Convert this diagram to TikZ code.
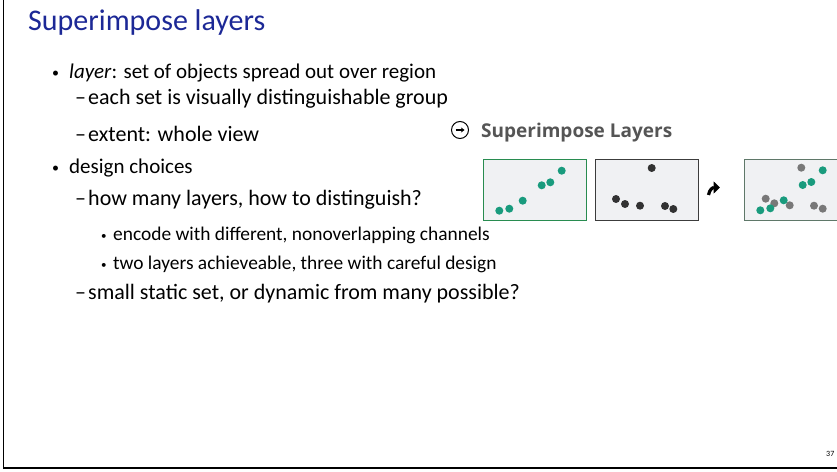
\documentclass[tikz,border=0pt]{standalone}
\usepackage{fontspec}
\setmainfont{Carlito}
\newfontfamily\headfont{Open Sans}
\usetikzlibrary{arrows.meta}

\definecolor{titleblue}{RGB}{28,40,150}
\definecolor{headgray}{RGB}{85,85,85}
\definecolor{boxfill}{RGB}{240,241,243}
\definecolor{boxgreen}{RGB}{40,140,80}
\definecolor{boxdark}{RGB}{60,60,60}
\definecolor{boxmix}{RGB}{95,120,105}
\definecolor{dotteal}{RGB}{25,155,125}
\definecolor{dotdark}{RGB}{50,50,50}
\definecolor{dotgray}{RGB}{120,120,120}

\begin{document}
\begin{tikzpicture}[x=1pt, y=-1pt, >=stealth,
    txt/.style={anchor=base west, inner sep=0pt},
    lvlone/.style={txt, font=\fontsize{21}{24}\selectfont},
    lvltwo/.style={txt, font=\fontsize{22}{25}\selectfont},
    lvlthree/.style={txt, font=\fontsize{19.4}{22}\selectfont},
    bulbig/.style={txt, font=\fontsize{14}{16}\selectfont},
    bulsmall/.style={txt, font=\fontsize{11}{13}\selectfont},
    panel/.style={draw, fill=boxfill, line width=1.2pt, minimum width=103pt,
        minimum height=61pt, inner sep=0pt, anchor=north west},
    dot/.style={circle, inner sep=0pt, minimum size=8pt}]

    % =================================================================
    % 1. KHUNG TRANG
    % =================================================================
    \useasboundingbox (0,0) rectangle (837,471);
    \coordinate (TopLeft) at (3.5,0);
    \coordinate (BottomLeft) at (3.5,468);
    \coordinate (BottomRight) at (837,468);
    \draw[line width=1.4pt] (TopLeft) -- (BottomLeft) -- (BottomRight);

    % =================================================================
    % 2. TIEU DE VA CAC DONG CHU
    % =================================================================
    \node[txt, font=\fontsize{30}{34}\selectfont, text=titleblue] (title) at (28,30) {Superimpose layers};

    \node[bulbig] (bulA) at (52,77) {\textbullet};
    \node[lvlone] (lineA) at (69,78) {\textit{layer}: set of objects spread out over region};
    \node[lvltwo] (dashB) at (75,104) {\textendash};
    \node[lvltwo] (lineB) at (88,104) {each set is visually distinguishable group};
    \node[lvltwo] (dashC) at (75,141) {\textendash};
    \node[lvltwo] (lineC) at (88,141) {extent: whole view};
    \node[bulbig] (bulD) at (52,172) {\textbullet};
    \node[lvlone] (lineD) at (69,173) {design choices};
    \node[lvltwo] (dashE) at (75,205) {\textendash};
    \node[lvltwo] (lineE) at (88,205) {how many layers, how to distinguish?};
    \node[bulsmall] (bulF) at (101,239) {\textbullet};
    \node[lvlthree] (lineF) at (113,240) {encode with different, nonoverlapping channels};
    \node[bulsmall] (bulG) at (101,268) {\textbullet};
    \node[lvlthree] (lineG) at (113,269) {two layers achieveable, three with careful design};
    \node[lvltwo] (dashH) at (75,299) {\textendash};
    \node[lvltwo] (lineH) at (88,299) {small static set, or dynamic from many possible?};

    % so trang
    \node[txt, font=\fontsize{8}{9}\selectfont] (pagenum) at (826,456) {37};

    % =================================================================
    % 3. TIEU DE HINH MINH HOA
    % =================================================================
    \node[circle, draw=black, line width=1pt, minimum size=17pt, inner sep=0pt] (icon) at (460,130) {};
    \draw[-{Stealth[length=3.5pt,width=5pt]}, line width=1.1pt] ([xshift=-4.5pt]icon.center) -- ([xshift=4.5pt]icon.center);
    \node[txt, font=\headfont\bfseries\fontsize{19}{22}\selectfont, text=headgray] (head) at (481,137) {Superimpose Layers};

    % =================================================================
    % 4. BA KHUNG DU LIEU
    % =================================================================
    \node[panel, draw=boxgreen] (boxA) at (483,159) {};
    \node[panel, draw=boxdark] (boxB) at (595,159) {};
    \node[panel, draw=boxmix] (boxC) at (744,159) {};

    % cham xanh (lop thu nhat)
    \foreach \x/\y in {16.3/51.7, 26.3/49.7, 39.7/41.7, 58.7/26.3, 67.3/23.3, 78.7/11.7} {
        \node[dot, fill=dotteal] at ([shift={(\x,\y)}]boxA.north west) {};
    }
    % cham den (lop thu hai)
    \foreach \x/\y in {56.7/9, 21/40, 30/45, 45/46.7, 70/47, 78.3/50} {
        \node[dot, fill=dotdark] at ([shift={(\x,\y)}]boxB.north west) {};
    }
    % chong hai lop len nhau
    \foreach \x/\y in {57.3/8.7, 21.7/39.7, 30.3/44.3, 45.7/46.3, 70/46.7, 78.7/49.7} {
        \node[dot, fill=dotgray] at ([shift={(\x,\y)}]boxC.north west) {};
    }
    \foreach \x/\y in {16.3/51.3, 26.3/49.3, 39.7/41.3, 58.7/26, 67.3/23, 78.7/11.3} {
        \node[dot, fill=dotteal] at ([shift={(\x,\y)}]boxC.north west) {};
    }

    % =================================================================
    % 5. MUI TEN CONG
    % =================================================================
    \coordinate (arrS) at (708.5,195);
    \coordinate (arrE) at (720,187.5);
    \draw[line width=3.2pt, -{Triangle[length=6.5pt,width=12pt]}] (arrS) .. controls (709.5,189) and (713,187.5) .. (arrE);

\end{tikzpicture}
\end{document}
